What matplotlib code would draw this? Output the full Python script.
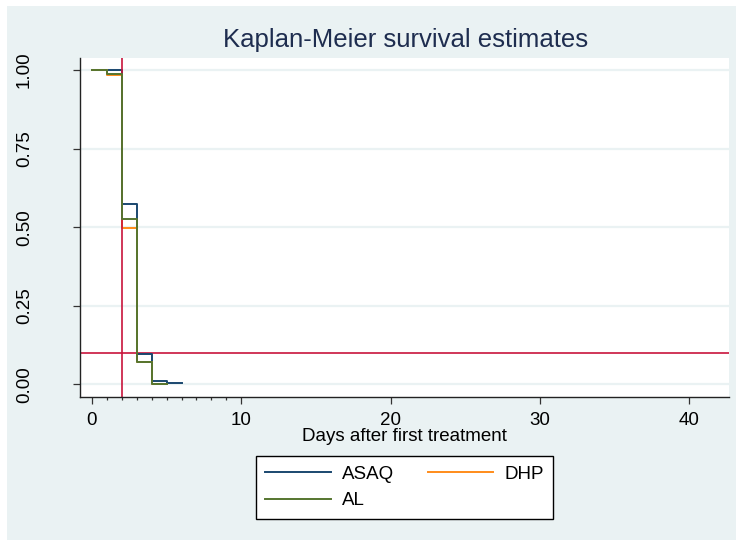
import matplotlib
matplotlib.use('Agg')
import matplotlib.pyplot as plt                       # Plotting library
from matplotlib.patches import Rectangle              # Background panel

# Survival data (days after first treatment, survival estimate)
days_asaq = [0, 1, 2, 3, 4, 5, 6]
surv_asaq = [1.0, 1.0, 0.573, 0.096, 0.0105, 0.004, 0.004]

days_dhp = [0, 1, 2, 3, 4, 5]
surv_dhp = [1.0, 0.985, 0.496, 0.071, 0.0, 0.0]

days_al = [0, 1, 2, 3, 4, 5]
surv_al = [1.0, 0.988, 0.525, 0.071, 0.0, 0.0]

# Reference lines
ref_day = 2
ref_surv = 0.1

x_ticks = [0, 10, 20, 30, 40]
y_ticks = [0.0, 0.25, 0.5, 0.75, 1.0]
y_labels = ['0.00', '0.25', '0.50', '0.75', '1.00']

#-----------------------------------------------------------------------------------------------------------

plt.rcParams['font.family'] = ['Liberation Sans', 'DejaVu Sans']

bg = '#eaf2f3'
fig = plt.figure(figsize=(7.36, 5.4), dpi=100, facecolor='white')

# Stata-like graph region
fig.patches.append(Rectangle((7/736, 0), 1, 534/540, transform=fig.transFigure,
                             facecolor=bg, edgecolor='none', zorder=-10))

ax = fig.add_axes([80/736, 143/540, 649/736, 339/540])
ax.set_facecolor('white')

# Grid lines
for y in y_ticks:
  ax.axhline(y, color=bg, linewidth=1.6, zorder=0)

# Survival curves
ax.step(days_asaq, surv_asaq, where='post', color='#1a476f', linewidth=1.4, label='ASAQ', zorder=2)
ax.step(days_dhp, surv_dhp, where='post', color='#ff8c1a', linewidth=1.4, label='DHP', zorder=2)
ax.axvline(ref_day, color='#c8143c', linewidth=1.2, zorder=2.5)
ax.axhline(ref_surv, color='#c8143c', linewidth=1.2, zorder=1.5)
ax.step(days_al, surv_al, where='post', color='#55752f', linewidth=1.4, label='AL', zorder=3)

ax.set_xlim(-0.8, 42.67)
ax.set_ylim(-0.040, 1.038)

ax.set_xticks(x_ticks)
ax.set_xticks(range(1, 10), minor=True)
ax.set_yticks(y_ticks)
ax.set_yticklabels(y_labels, rotation=90, va='center')

ax.tick_params(axis='both', which='major', length=5, width=0.9, color='#333333', labelsize=13.5)
ax.tick_params(axis='x', which='major', pad=6)
ax.tick_params(axis='x', which='minor', length=2.5, width=0.9, color='#333333')
ax.tick_params(axis='y', pad=29)

for side in ['top', 'right']:
  ax.spines[side].set_visible(False)
for side in ['left', 'bottom']:
  ax.spines[side].set_color('#222222')
  ax.spines[side].set_linewidth(1.0)

ax.set_xlabel('Days after first treatment', fontsize=13.5, labelpad=-1)
fig.text(406/736, 1 - 40/540, 'Kaplan-Meier survival estimates', fontsize=18.5,
         color='#1e2d4f', ha='center', va='center')

# Legend (row-major order: ASAQ, DHP / AL)
h, l = ax.get_legend_handles_labels()
order = [0, 2, 1]
leg = fig.legend([h[i] for i in order], [l[i] for i in order], ncol=2,
                 loc='center', bbox_to_anchor=(404.5/736, 1 - 487.5/540),
                 fontsize=13.5, frameon=True, fancybox=False, edgecolor='black',
                 facecolor='white', framealpha=1,
                 handlelength=3.5, handletextpad=0.6, columnspacing=1.8, labelspacing=0.5,
                 borderpad=0.5)
leg.get_frame().set_linewidth(1.0)

plt.savefig('out.png', dpi=100, facecolor=fig.get_facecolor())
